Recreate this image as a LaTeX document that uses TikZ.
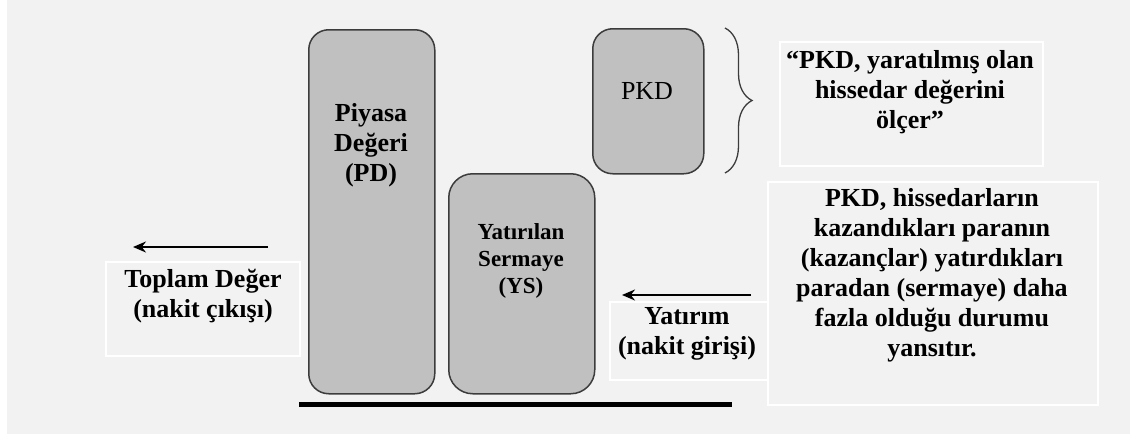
\documentclass[tikz,border=0pt]{standalone}
\usepackage{fontspec}
\setmainfont{Liberation Serif}
\usetikzlibrary{decorations.pathreplacing,arrows.meta}
\definecolor{bggray}{HTML}{F2F2F2}
\definecolor{boxgray}{HTML}{C0C0C0}
\definecolor{edgegray}{HTML}{3C3C3C}

\begin{document}
\begin{tikzpicture}[x=1pt,y=-1pt,
  bar/.style={draw=edgegray, line width=1.5pt, fill=boxgray, rounded corners=20pt,
    inner sep=0pt, anchor=north west},
  frame/.style={draw=white, line width=1.5pt, inner sep=0pt, anchor=north west},
  caption/.style={align=center, inner sep=0pt,
    font=\fontsize{26}{30}\selectfont\bfseries},
  smallcaption/.style={align=center, inner sep=0pt,
    font=\fontsize{23}{27}\selectfont\bfseries},
  flow/.style={-{Stealth[length=13pt,width=11pt]}, line width=2pt}]

% page and background
\useasboundingbox (0,0) rectangle (1133,439);
\fill[white] (0,0) rectangle (1133,439);
\fill[bggray] (7,0) rectangle (1130,434);

% white text frames
\node[frame, minimum width=194pt, minimum height=94pt] (totbox) at (105,261) {};
\node[frame, minimum width=263pt, minimum height=124pt] (quotebox) at (779,41) {};
\node[frame, minimum width=330pt, minimum height=223pt] (notebox) at (767,181) {};
\node[frame, minimum width=158pt, minimum height=78pt] (invbox) at (609,301) {};

% value bars
\node[bar, minimum width=126pt, minimum height=364pt] (pd) at (308,29) {};
\node[bar, minimum width=146pt, minimum height=220pt, rounded corners=24pt] (ys) at (448,173) {};
\node[bar, minimum width=111pt, minimum height=145pt] (pkd) at (592,28) {};

% labels inside the bars
\node[caption] (pdtext) at (371,145) {Piyasa\\Değeri\\(PD)};
\node[smallcaption] (ystext) at (521,261) {Yatırılan\\Sermaye\\(YS)};
\node[font=\fontsize{26}{30}\selectfont, inner sep=0pt] (pkdtext) at (647,91) {PKD};

% explanatory texts
\node[caption] (quotetext) at (910,92) {“PKD, yaratılmış olan\\hissedar değerini\\ölçer”};
\node[caption] (notetext) at (932,275) {PKD, hissedarların\\kazandıkları paranın\\(kazançlar) yatırdıkları\\paradan (sermaye) daha\\fazla olduğu durumu\\yansıtır.};
\node[caption] (invtext) at (687,334) {Yatırım\\(nakit girişi)};
\node[caption] (tottext) at (203,296) {Toplam Değer\\(nakit çıkışı)};

% cash flow arrows
\coordinate (outstart) at (268,247);
\coordinate (outend) at (133,247);
\draw[flow] (outstart) -- (outend);
\coordinate (instart) at (751,295);
\coordinate (inend) at (622,295);
\draw[flow] (instart) -- (inend);

% ground line
\coordinate (gleft) at (299,404);
\coordinate (gright) at (732,404);
\draw[line width=5pt] (gleft) -- (gright);

% brace next to PKD
\coordinate (bracetop) at (725,28);
\coordinate (bracebot) at (725,173);
\draw[edgegray, line width=1.3pt, decorate, decoration={brace, amplitude=27pt}]
  (bracetop) -- (bracebot);
\end{tikzpicture}
\end{document}
